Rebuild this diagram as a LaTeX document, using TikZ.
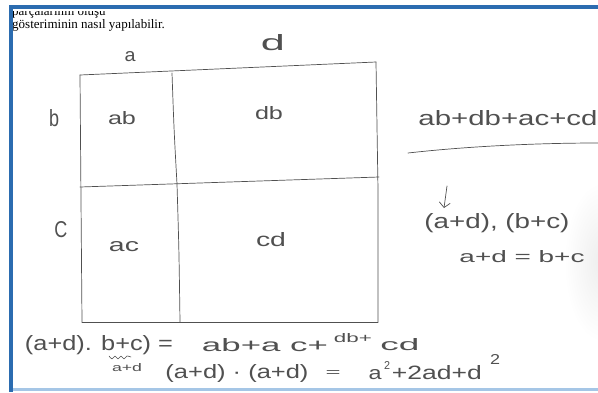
\documentclass[tikz,border=0pt]{standalone}
\usepackage{fontspec}
\usepackage{graphicx}
\newfontfamily\hand{Liberation Sans}
\newfontfamily\printfont{Liberation Serif}
\usetikzlibrary{arrows.meta}
\definecolor{frameblue}{RGB}{43,108,176}
\definecolor{lightblue}{RGB}{165,198,230}
\definecolor{pencil}{RGB}{80,80,80}
\newcommand\hw[3]{\resizebox{#1pt}{#2pt}{\hand #3}}
\begin{document}
\begin{tikzpicture}[x=1pt,y=-1pt,
  hwnode/.style={inner sep=0pt, outer sep=0pt, text=pencil},
  pen/.style={draw=pencil, line width=0.7pt, line cap=round, line join=round},
  printtext/.style={anchor=base west, inner sep=0pt, text=black, font=\printfont\fontsize{13}{13}\selectfont}]
\useasboundingbox (0,0) rectangle (598,392);
\fill[white] (0,0) rectangle (598,392);
% paper shadow at the right
\shade[inner color=black!7, outer color=white] (602,262) ellipse (38pt and 80pt);
% printed header
\begin{scope}
  \clip (0,11) rectangle (598,40);
  \node[printtext] (h1) at (12,15.5) {parçalarının oluşu};
\end{scope}
\node[printtext] (h2) at (12,28) {gösteriminin nasıl yapılabilir.};
% frame
\fill[frameblue] (9,5) rectangle (598,9);
\fill[frameblue] (9,5) rectangle (13,392);
\fill[lightblue] (13,388) rectangle (598,391);
% rectangle
\coordinate (TL) at (80,75);
\coordinate (TR) at (376,62);
\coordinate (BR) at (378,322);
\coordinate (BL) at (82,322);
\coordinate (VT) at (172,73);
\coordinate (VM) at (177,184);
\coordinate (VB) at (180,322);
\coordinate (HL) at (80,187);
\coordinate (HR) at (379,177);
\draw[pen] (TL) -- (TR);
\draw[pen] (TR) -- (378,190) -- (BR);
\draw[pen] (TL) -- (81,200) -- (BL);
\draw[pen] (BL) -- (BR);
\draw[pen] (VT) .. controls (174,130) .. (VM) .. controls (179,250) .. (VB);
\draw[pen] (HL) -- (HR);
% side labels
\node[hwnode] (la) at (130,57) {\hw{11}{10}{a}};
\node[hwnode] (ld) at (273,43) {\hw{24}{16}{d}};
\node[hwnode] (lb) at (54,118) {\hw{10}{17}{b}};
\node[hwnode] (lc) at (61,230) {\hw{13}{16}{C}};
% cells
\node[hwnode] (cab) at (122,118) {\hw{28}{13}{ab}};
\node[hwnode] (cdb) at (269,113) {\hw{28}{13}{db}};
\node[hwnode] (cac) at (124,247) {\hw{30}{10}{ac}};
\node[hwnode] (ccd) at (271,240) {\hw{30}{14}{cd}};
% right side
\node[hwnode] (sum) at (508,118) {\hw{179}{15}{ab+db+ac+cd}};
\draw[pen] (408,153) .. controls (470,146) and (540,143) .. (598,143);
\node[hwnode] (pair) at (497,223) {\hw{145}{15}{(a+d), (b+c)}};
\coordinate (arrtop) at (447,186);
\coordinate (arrbot) at (444,208);
\draw[pen, -{Straight Barb[length=5pt,width=11pt]}] (arrtop) -- (arrbot);
\node[hwnode] (eq) at (522,257) {\hw{125}{12}{a+d = b+c}};
% bottom lines
\node[hwnode] (l1a) at (99,345) {\hw{148}{15}{(a+d). b+c) =}};
\node[hwnode] (l1b) at (265,345) {\hw{126}{13}{ab+a c+}};
\node[hwnode] (l1c) at (353,338) {\hw{38}{9}{db+}};
\node[hwnode] (l1d) at (400,345) {\hw{39}{12}{cd}};
\draw[pen, line width=0.6pt] plot[smooth] coordinates {(109,356) (112,359) (115,356) (118,359) (121,356) (124,359) (127,356) (131,357)};
\node[hwnode] (small) at (127,368) {\hw{30}{8}{a+d}};
\node[hwnode] (l2a) at (237,373) {\hw{143}{14}{(a+d) · (a+d)}};
\node[hwnode] (l2b) at (333,373) {\hw{15}{6}{=}};
\node[hwnode] (l2c) at (375,375) {\hw{13}{10}{a}};
\node[hwnode] (l2d) at (387,365) {\hw{6}{8}{2}};
\node[hwnode] (l2e) at (437,373) {\hw{90}{14}{+2ad+d}};
\node[hwnode] (l2f) at (495,359) {\hw{10}{10}{2}};
\end{tikzpicture}
\end{document}
